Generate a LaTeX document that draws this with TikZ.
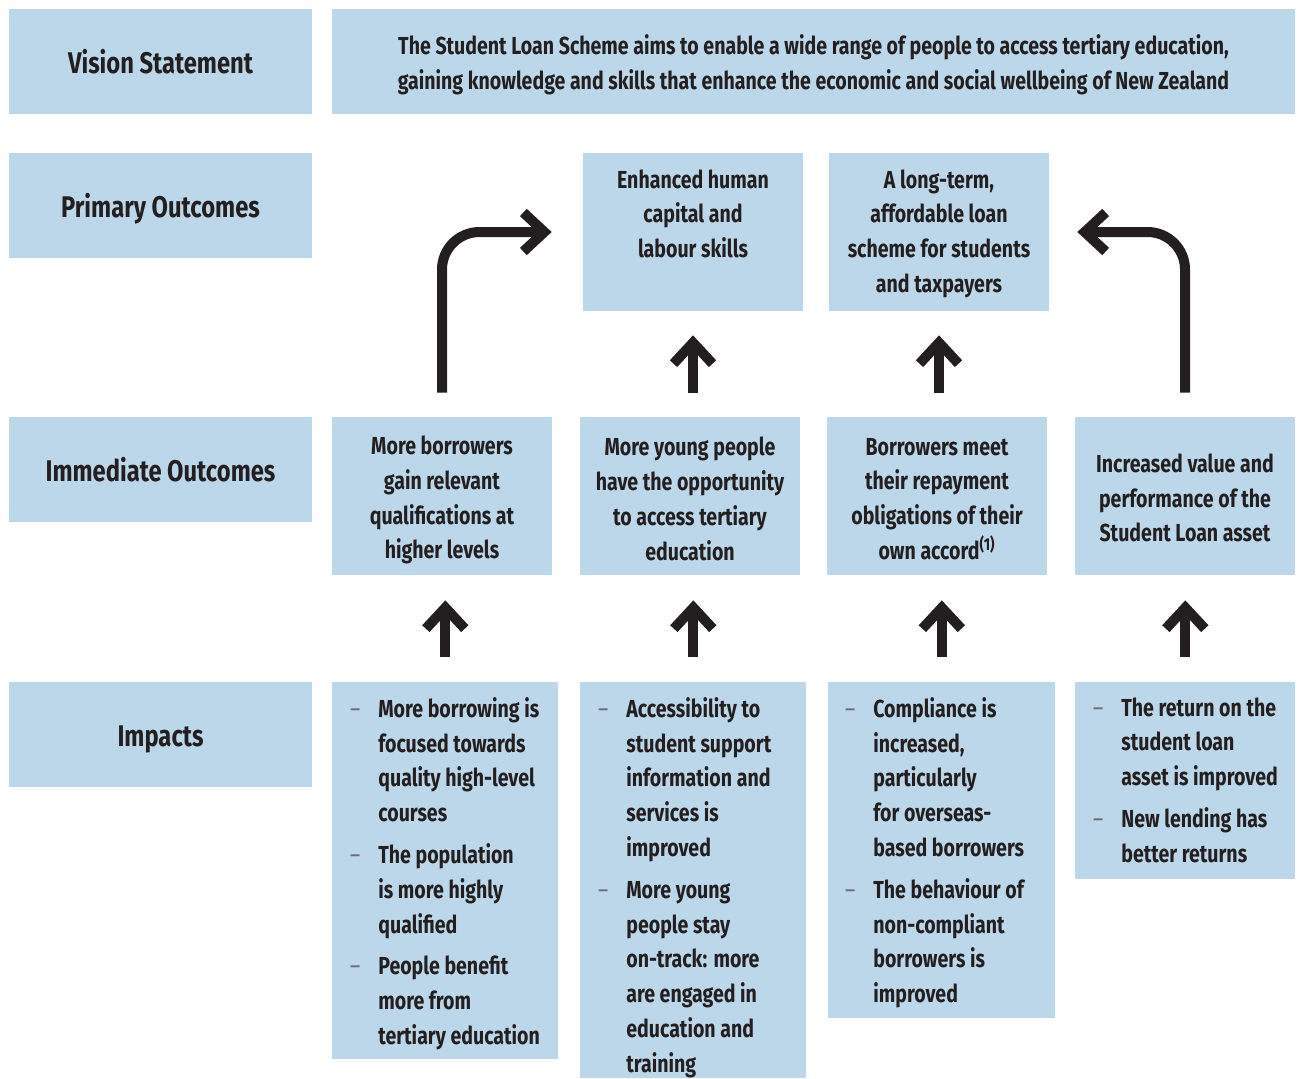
\documentclass[tikz,border=0pt]{standalone}
\usepackage{fontspec}
\setmainfont{Fira Sans}[FakeStretch=0.795]
\usetikzlibrary{arrows.meta}

\definecolor{boxblue}{RGB}{189,215,234}
\definecolor{inkdark}{RGB}{35,31,32}
\definecolor{dashgrey}{RGB}{110,110,113}
% dash in front of each impact
\newcommand{\dsh}{\llap{\textcolor{dashgrey}{\mdseries --}\hspace{0.36cm}}}

\begin{document}
\begin{tikzpicture}[x=0.02cm, y=-0.02cm, text=inkdark,
  box/.style={fill=boxblue, inner sep=0pt},
  headbox/.style={box, minimum width=6.06cm, minimum height=2.1cm,
    text height=13.5pt, text depth=0pt,
    font=\fontsize{17}{20}\selectfont\bfseries},
  outbox/.style={box, minimum width=4.4cm, minimum height=3.16cm},
  bodytext/.style={inner sep=0pt, align=center,
    font=\fontsize{14}{19.8}\selectfont\bfseries},
  imptext/.style={bodytext, align=left, anchor=north west},
  bigarrow/.style={line width=0.2cm, draw=inkdark,
    -{Straight Barb[length=0.42cm, width=0.78cm]}}]
  \useasboundingbox (0,0) rectangle (1300,1078);
  % left column labels
  \node[headbox] (vislab)  at (160.5,61.5)  {Vision Statement};
  \node[headbox] (primlab) at (160.5,205.5) {Primary Outcomes};
  \node[headbox] (immlab)  at (160.5,469.5) {Immediate Outcomes};
  \node[headbox] (implab)  at (160.5,734.5) {Impacts};
  % vision statement
  \node[box, minimum width=19.26cm, minimum height=2.1cm] (vis) at (813.5,61.5) {};
  \node[bodytext] (vist) at (813.5,65)
    {The Student Loan Scheme aims to enable a wide range of people to access tertiary education,\\
     gaining knowledge and skills that enhance the economic and social wellbeing of New Zealand};
  % primary outcomes (text sits at the top)
  \node[outbox] (p1) at (693,232) {};
  \node[outbox] (p2) at (939,232) {};
  \node[bodytext, anchor=north] (p1t) at (693,169)
    {Enhanced human\\ capital and\\ labour skills};
  \node[bodytext, anchor=north] (p2t) at (939,169)
    {A long-term,\\ affordable loan\\ scheme for students\\ and taxpayers};
  % immediate outcomes
  \node[outbox] (i1) at (442,496) {};
  \node[outbox] (i2) at (690,496) {};
  \node[outbox] (i3) at (937,496) {};
  \node[outbox] (i4) at (1185,496) {};
  \node[bodytext] (i1t) at (442,500)
    {More borrowers\\ gain relevant\\ qualifications at\\ higher levels};
  \node[bodytext] (i2t) at (690,499)
    {More young people\\ have the opportunity\\ to access tertiary\\ education};
  \node[bodytext] (i3t) at (937,499)
    {Borrowers meet\\ their repayment\\ obligations of their\\ own accord\textsuperscript{(1)}};
  \node[bodytext] (i4t) at (1185,498)
    {Increased value and\\ performance of the\\ Student Loan asset};
  % impacts
  \node[box, anchor=north west, minimum width=4.52cm, minimum height=7.54cm] (m1) at (332,682) {};
  \node[box, anchor=north west, minimum width=4.52cm, minimum height=7.92cm] (m2) at (580,682) {};
  \node[box, anchor=north west, minimum width=4.54cm, minimum height=6.72cm] (m3) at (828,682) {};
  \node[box, anchor=north west, minimum width=4.40cm, minimum height=3.94cm] (m4) at (1075,682) {};
  \node[imptext] (m1t) at (378,697)
    {\dsh More borrowing is\\ focused towards\\ quality high-level\\ courses\\[4pt]
     \dsh The population\\ is more highly\\ qualified\\[4pt]
     \dsh People benefit\\ more from\\ tertiary education};
  \node[imptext] (m2t) at (626,697)
    {\dsh Accessibility to\\ student support\\ information and\\ services is\\ improved\\[4pt]
     \dsh More young\\ people stay\\ on-track: more\\ are engaged in\\ education and\\ training};
  \node[imptext] (m3t) at (873,697)
    {\dsh Compliance is\\ increased,\\ particularly\\ for overseas-\\ based borrowers\\[4pt]
     \dsh The behaviour of\\ non-compliant\\ borrowers is\\ improved};
  \node[imptext] (m4t) at (1121,697)
    {\dsh The return on the\\ student loan\\ asset is improved\\[4pt]
     \dsh New lending has\\ better returns};
  % arrows impacts -> immediate outcomes
  \draw[bigarrow] ([yshift=0.5cm]m1.north) -- ([yshift=-0.5cm]m1.north |- i1.south);
  \draw[bigarrow] ([yshift=0.5cm]m2.north) -- ([yshift=-0.5cm]m2.north |- i2.south);
  \draw[bigarrow] ([yshift=0.5cm]m3.north) -- ([yshift=-0.5cm]m3.north |- i3.south);
  \draw[bigarrow] ([yshift=0.5cm]m4.north) -- ([yshift=-0.5cm]m4.north |- i4.south);
  % arrows immediate -> primary outcomes
  \draw[bigarrow] ([yshift=0.48cm]p1.south |- i2.north) -- ([yshift=-0.48cm]p1.south);
  \draw[bigarrow] ([yshift=0.48cm]p2.south |- i3.north) -- ([yshift=-0.48cm]p2.south);
  \draw[bigarrow, rounded corners=0.75cm] ([yshift=0.48cm]i1.north) |- ([xshift=-0.62cm]p1.west);
  \draw[bigarrow, rounded corners=0.75cm] ([yshift=0.48cm]i4.north) |- ([xshift=0.56cm]p2.east);
\end{tikzpicture}
\end{document}
